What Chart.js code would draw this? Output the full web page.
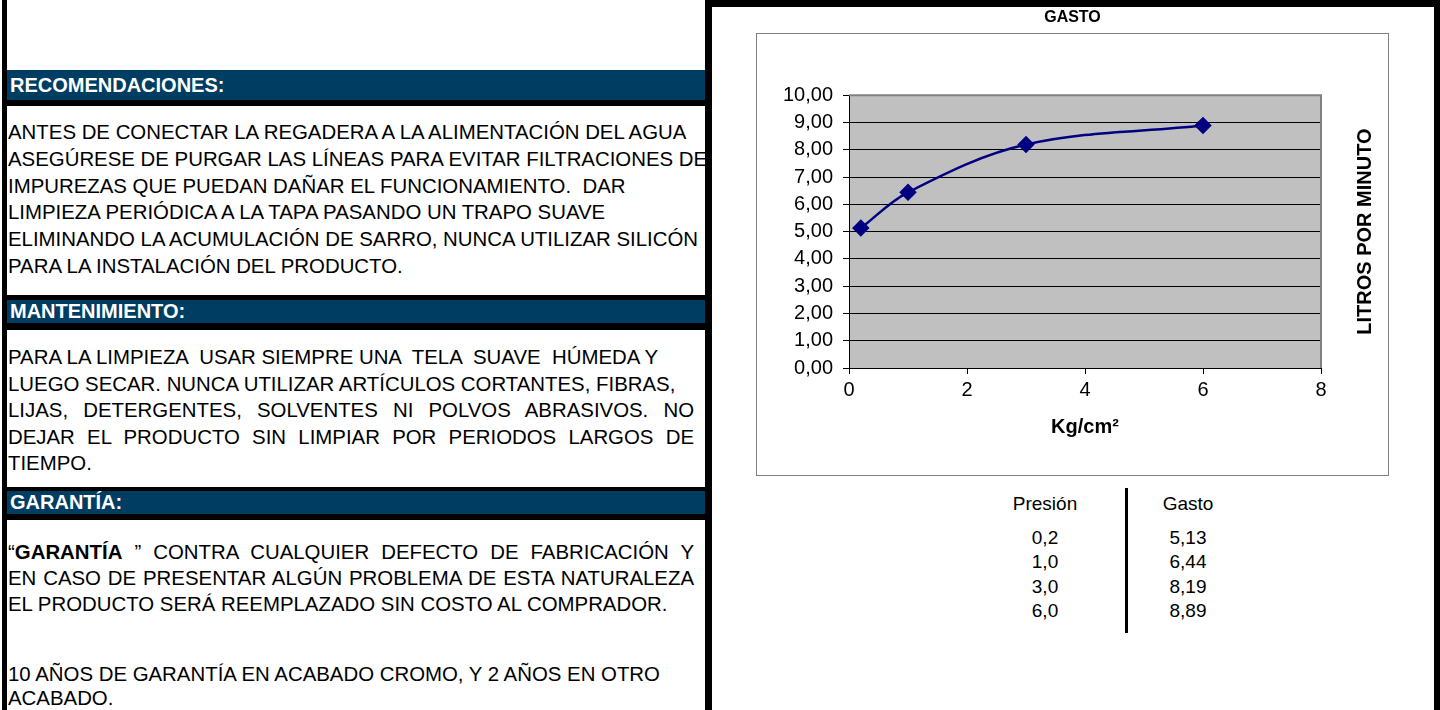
<!DOCTYPE html>
<html>
<head>
<meta charset="utf-8">
<script src="https://cdn.jsdelivr.net/npm/chart.js@4"></script>
<style>
  html, body { margin: 0; padding: 0; background: #fff; }
  body { width: 1440px; height: 710px; position: relative; overflow: hidden;
         font-family: "Liberation Sans", Arial, sans-serif; color: #000; }
  .blk { position: absolute; background: #000; }
  .hdr { position: absolute; left: 7px; width: 698px; background: #003d62; color: #fff;
         font-weight: bold; font-size: 20px; box-sizing: border-box; padding-left: 3px;
         border-bottom: 6px solid #000; }
  .txt { position: absolute; left: 8px; width: 686px; font-size: 20.4px; }
  .txt div { white-space: pre; }
  .txt div.j { text-align: justify; text-align-last: justify; white-space: normal; }
  #box { position: absolute; left: 756px; top: 33px; width: 631px; height: 441px;
         border: 1px solid #808080; }
  #wrap { position: absolute; left: 712px; top: 7px; width: 721px; height: 473px; }
  .col { position: absolute; width: 120px; text-align: center; font-size: 19px; line-height: 24.5px; }
</style>
</head>
<body>
<!-- left panel -->
<div class="blk" style="left:2px;top:0;width:5px;height:710px"></div>
<div class="blk" style="left:705px;top:0;width:7px;height:710px"></div>

<div class="hdr" style="top:70px;height:36px;line-height:30px">RECOMENDACIONES:</div>
<div class="txt" style="top:119px;line-height:26.8px"><div>ANTES DE CONECTAR LA REGADERA A LA ALIMENTACIÓN DEL AGUA</div><div>ASEGÚRESE DE PURGAR LAS LÍNEAS PARA EVITAR FILTRACIONES DE</div><div>IMPUREZAS QUE PUEDAN DAÑAR EL FUNCIONAMIENTO.  DAR</div><div>LIMPIEZA PERIÓDICA A LA TAPA PASANDO UN TRAPO SUAVE</div><div>ELIMINANDO LA ACUMULACIÓN DE SARRO, NUNCA UTILIZAR SILICÓN</div><div>PARA LA INSTALACIÓN DEL PRODUCTO.</div></div>

<div class="hdr" style="top:295px;height:35px;line-height:23px;border-top:5px solid #000;border-bottom-width:7px">MANTENIMIENTO:</div>
<div class="txt" style="top:344px;line-height:26.5px"><div>PARA LA LIMPIEZA  USAR SIEMPRE UNA  TELA  SUAVE  HÚMEDA Y</div><div>LUEGO SECAR. NUNCA UTILIZAR ARTÍCULOS CORTANTES, FIBRAS,</div><div class="j">LIJAS,  DETERGENTES, SOLVENTES  NI POLVOS  ABRASIVOS. NO</div><div class="j">DEJAR EL PRODUCTO SIN LIMPIAR POR PERIODOS LARGOS DE</div><div>TIEMPO.</div></div>

<div class="hdr" style="top:487px;height:33px;line-height:23px;border-top:4px solid #000">GARANTÍA:</div>
<div class="txt" style="top:539px;line-height:26px"><div class="j">“<b>GARANTÍA</b> ” CONTRA CUALQUIER DEFECTO DE FABRICACIÓN Y</div><div class="j">EN CASO DE PRESENTAR ALGÚN PROBLEMA DE ESTA NATURALEZA</div><div>EL PRODUCTO SERÁ REEMPLAZADO SIN COSTO AL COMPRADOR.</div></div>
<div class="txt" style="top:662px;line-height:24px"><div>10 AÑOS DE GARANTÍA EN ACABADO CROMO, Y 2 AÑOS EN OTRO</div><div>ACABADO.</div></div>

<!-- right panel -->
<div class="blk" style="left:705px;top:0;width:735px;height:7px"></div>
<div class="blk" style="left:1434px;top:0;width:6px;height:710px"></div>
<div id="box"></div>
<div id="wrap"><canvas id="chart" width="721" height="473"></canvas></div>

<div class="col" id="colP" style="left:985px;top:492px"></div>
<div class="blk" style="left:1125px;top:488px;width:3px;height:145px"></div>
<div class="col" id="colG" style="left:1128px;top:492px"></div>

<script>
const pressure = [0.2, 1.0, 3.0, 6.0];       // Kg/cm²
const flow = [5.13, 6.44, 8.19, 8.89];       // litros por minuto
const chartTitle = "GASTO";
const xTitle = "Kg/cm²";
const yTitle = "LITROS POR MINUTO";
const tableHeads = ["Presión", "Gasto"];

const FONT = "'Liberation Sans', Arial, sans-serif";
const comma = (v, d) => v.toFixed(d).replace(".", ",");

// table under the chart
function fillCol(id, head, vals) {
  document.getElementById(id).innerHTML =
    "<div>" + head + "</div><div style='height:9px'></div>" +
    vals.map(t => "<div>" + t + "</div>").join("");
}
fillCol("colP", tableHeads[0], pressure.map(p => comma(p, 1)));
fillCol("colG", tableHeads[1], flow.map(g => comma(g, 2)));

// grey plot background + grey top/right frame + right-side y title
const plotArea = {
  id: "plotArea",
  beforeDraw(chart) {
    const { ctx, chartArea: a } = chart;
    ctx.save();
    ctx.fillStyle = "#c0c0c0";
    ctx.fillRect(a.left, a.top, a.right - a.left, a.bottom - a.top);
    ctx.restore();
  },
  beforeDatasetsDraw(chart) {
    const { ctx, chartArea: a } = chart;
    ctx.save();
    ctx.strokeStyle = "#808080";
    ctx.lineWidth = 2;
    ctx.beginPath();
    ctx.moveTo(a.left, a.top);
    ctx.lineTo(a.right, a.top);
    ctx.lineTo(a.right, a.bottom);
    ctx.stroke();
    ctx.restore();
  },
  afterDraw(chart) {
    const { ctx, chartArea: a } = chart;
    ctx.save();
    ctx.translate(a.right + 44, (a.top + a.bottom) / 2);
    ctx.rotate(-Math.PI / 2);
    ctx.font = "bold 20px " + FONT;
    ctx.fillStyle = "#000";
    ctx.textAlign = "center";
    ctx.textBaseline = "middle";
    ctx.fillText(yTitle, 0, 0);
    ctx.restore();
  }
};

new Chart(document.getElementById("chart"), {
  type: "line",
  data: {
    datasets: [{
      label: chartTitle,
      data: pressure.map((p, i) => ({ x: p, y: flow[i] })),
      borderColor: "#000080",
      backgroundColor: "#000080",
      borderWidth: 2.5,
      tension: 0.35,
      pointStyle: "rectRot",
      pointRadius: 7,
      pointHoverRadius: 7,
      pointBackgroundColor: "#000080",
      pointBorderColor: "#000080",
      fill: false
    }]
  },
  options: {
    responsive: false,
    animation: false,
    devicePixelRatio: 1,
    layout: { padding: 0 },
    plugins: {
      legend: { display: false },
      tooltip: { enabled: false },
      title: {
        display: true,
        text: chartTitle,
        color: "#000",
        font: { family: FONT, size: 16, weight: "bold" },
        padding: { top: 1, bottom: 68 }
      }
    },
    scales: {
      x: {
        type: "linear",
        min: 0,
        max: 8,
        ticks: { stepSize: 2, color: "#000", padding: 4, font: { family: FONT, size: 20 } },
        grid: { drawOnChartArea: false, drawTicks: true, tickLength: 6, color: "#000" },
        border: { color: "#000", width: 1 },
        title: {
          display: true,
          text: xTitle,
          color: "#000",
          font: { family: FONT, size: 20, weight: "bold" },
          padding: { top: 0, bottom: 41 }
        },
        afterFit(scale) { scale.height = 112; }
      },
      y: {
        min: 0,
        max: 10,
        ticks: {
          stepSize: 1,
          color: "#000",
          padding: 10,
          font: { family: FONT, size: 20 },
          callback: v => comma(v, 2)
        },
        grid: { color: "#000", lineWidth: 1, tickLength: 6 },
        border: { color: "#000", width: 1 },
        afterFit(scale) { scale.width = 137; }
      },
      // empty right axis: only reserves the room where the y title is drawn
      yRight: {
        position: "right",
        min: 0,
        max: 10,
        ticks: { display: false },
        grid: { display: false, drawTicks: false },
        border: { display: false },
        afterFit(scale) { scale.width = 112; }
      }
    }
  },
  plugins: [plotArea]
});
</script>
</body>
</html>
